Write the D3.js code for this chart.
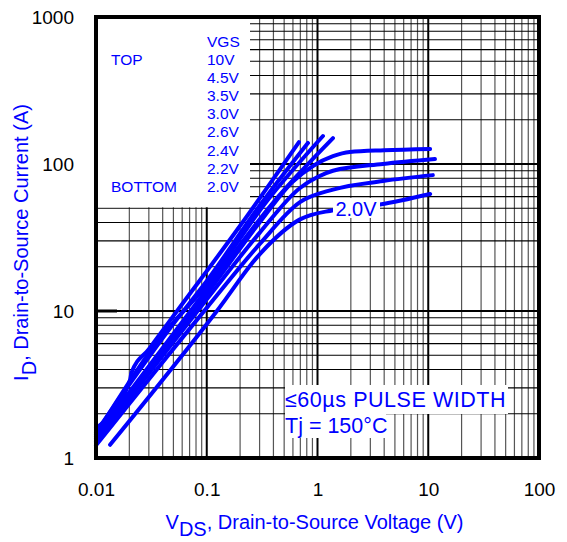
<!DOCTYPE html>
<html>
<head>
<meta charset="utf-8">
<script src="https://cdn.jsdelivr.net/npm/d3@7"></script>
<style>
  body { margin: 0; background: #fff; }
  svg text { font-family: "Liberation Sans", Arial, Helvetica, sans-serif; }
</style>
</head>
<body>
<div id="chart"></div>
<script>
// tick labels
var xTickValues = [0.01, 0.1, 1, 10, 100];
var xTickLabels = ["0.01", "0.1", "1", "10", "100"];
var yTickValues = [1, 10, 100, 1000];
var yTickLabels = ["1", "10", "100", "1000"];

// VGS legend, top to bottom
var vgsLabels = ["10V", "4.5V", "3.5V", "3.0V", "2.6V", "2.4V", "2.2V", "2.0V"];

// curves: [VDS (V), ID (A)]
var curve10V = [[0.01, 1.6], [0.0203, 3.4], [0.0209, 3.8], [0.03, 5.5], [0.055, 10.2], [0.2, 38], [0.68, 141]];
var curve45V = [[0.01, 1.5], [0.05, 8.2], [0.1, 16], [0.3, 52], [0.82, 139]];
var curve35V = [[0.01, 1.45], [0.037, 6.4], [0.1, 15], [0.35, 56], [1.12, 155]];
var curve30V = [[0.01, 1.4], [0.1, 14], [0.4, 55], [1.38, 150]];
var curve26V = [[0.01, 1.35], [0.1, 13], [0.3, 40], [0.6, 76], [0.91, 97], [1.38, 113], [1.96, 120.7], [4, 124], [10.4, 126.5]];
var curve24V = [[0.01, 1.3], [0.1, 12], [0.3, 34], [0.695, 68.7], [1.0, 81.6], [1.38, 90], [3.9, 100], [11.5, 108]];
var curve22V = [[0.01, 1.22], [0.1, 10.5], [0.3, 28.5], [0.695, 55], [1.38, 67], [3.9, 76.6], [11, 84]];
var curve20V = [[0.0134, 1.23], [0.126, 10.2], [0.303, 24.5], [0.695, 42], [1.38, 48.5], [3.67, 53], [10.4, 62.5]];
var curves = [curve10V, curve45V, curve35V, curve30V, curve26V, curve24V, curve22V, curve20V];

var svgWidth = 567;
var svgHeight = 542;
var margin = { top: 17, right: 28, bottom: 84, left: 96 };
var chartWidth = svgWidth - margin.left - margin.right;
var chartHeight = svgHeight - margin.top - margin.bottom;
var blue = "#0000ff";

var svg = d3.select("#chart")
    .append("svg")
    .attr("width", svgWidth)
    .attr("height", svgHeight);

var chartGroup = svg.append("g")
    .attr("transform", `translate(${margin.left}, ${margin.top})`);

var xScale = d3.scaleLog().domain([0.01, 100]).range([0, chartWidth]);
var yScale = d3.scaleLog().domain([1, 1000]).range([chartHeight, 0]);

// grid values: 1..9 in every decade
function decadeSteps(lo, hi) {
    var out = [];
    for (var d = lo; d < hi; d *= 10) {
        for (var k = 1; k < 10; k++) out.push({ v: d * k, major: k === 1 });
    }
    return out.filter(function(g) { return g.v > lo && g.v < hi; });
}

chartGroup.append("g").selectAll("line")
    .data(decadeSteps(0.01, 100))
    .enter()
    .append("line")
    .attr("x1", d => xScale(d.v))
    .attr("x2", d => xScale(d.v))
    .attr("y1", 0)
    .attr("y2", chartHeight)
    .attr("stroke", d => d.major ? "#000" : "#555")
    .attr("stroke-width", d => d.major ? 2 : 1.2);

chartGroup.append("g").selectAll("line")
    .data(decadeSteps(1, 1000))
    .enter()
    .append("line")
    .attr("x1", 0)
    .attr("x2", chartWidth)
    .attr("y1", d => yScale(d.v))
    .attr("y2", d => yScale(d.v))
    .attr("stroke", "#000")
    .attr("stroke-width", d => d.major ? 2 : 1.2);

// inner major ticks on the left side
chartGroup.append("g").selectAll("line")
    .data(yTickValues)
    .enter()
    .append("line")
    .attr("x1", 0)
    .attr("x2", 21)
    .attr("y1", d => yScale(d))
    .attr("y2", d => yScale(d))
    .attr("stroke", "#000")
    .attr("stroke-width", 3);

// white legend area top-left
chartGroup.append("rect")
    .attr("x", 0)
    .attr("y", 0)
    .attr("width", 154)
    .attr("height", yScale(50) - 1)
    .attr("fill", "#fff");

// curves
var line = d3.line()
    .x(d => xScale(d[0]))
    .y(d => yScale(d[1]))
    .curve(d3.curveMonotoneX);

chartGroup.append("g").selectAll("path")
    .data(curves)
    .enter()
    .append("path")
    .attr("d", line)
    .attr("fill", "none")
    .attr("stroke", blue)
    .attr("stroke-width", 4)
    .attr("stroke-linecap", "round")
    .attr("stroke-linejoin", "round");

// plot frame
chartGroup.append("rect")
    .attr("x", 0)
    .attr("y", 0)
    .attr("width", chartWidth)
    .attr("height", chartHeight)
    .attr("fill", "none")
    .attr("stroke", "#000")
    .attr("stroke-width", 4);

// legend texts
var legend = chartGroup.append("g")
    .attr("fill", blue)
    .attr("font-size", "15.5px");

legend.append("text").attr("x", 111).attr("y", 30).text("VGS");
legend.selectAll(".vgs")
    .data(vgsLabels)
    .enter()
    .append("text")
    .attr("class", "vgs")
    .attr("x", 111)
    .attr("y", (d, i) => 47.5 + i * 18.2)
    .text(d => d);
legend.append("text").attr("x", 15).attr("y", 47.5).text("TOP");
legend.append("text").attr("x", 15).attr("y", 47.5 + 7 * 18.2).text("BOTTOM");

// 2.0V curve label
chartGroup.append("rect")
    .attr("x", 237)
    .attr("y", 181)
    .attr("width", 47)
    .attr("height", 20)
    .attr("fill", "#fff");
chartGroup.append("text")
    .attr("x", 260)
    .attr("y", 199)
    .attr("text-anchor", "middle")
    .attr("fill", blue)
    .attr("font-size", "20px")
    .text("2.0V");

// test condition note
chartGroup.append("rect")
    .attr("x", 189).attr("y", 368)
    .attr("width", 223).attr("height", 29)
    .attr("fill", "#fff");
chartGroup.append("rect")
    .attr("x", 189).attr("y", 396)
    .attr("width", 101).attr("height", 25)
    .attr("fill", "#fff");
chartGroup.append("text")
    .attr("x", 189).attr("y", 390)
    .attr("fill", blue)
    .attr("font-size", "21.5px")
    .attr("letter-spacing", "0.55px")
    .text("≤60µs PULSE WIDTH");
chartGroup.append("text")
    .attr("x", 189).attr("y", 416)
    .attr("fill", blue)
    .attr("font-size", "21.5px")
    .text("Tj = 150°C");

// axes (labels only)
var bottomAxis = d3.axisBottom(xScale)
    .tickValues(xTickValues)
    .tickFormat((d, i) => xTickLabels[i])
    .tickSize(0)
    .tickPadding(0);
var leftAxis = d3.axisLeft(yScale)
    .tickValues(yTickValues)
    .tickFormat((d, i) => yTickLabels[i])
    .tickSize(0)
    .tickPadding(0);

var xAxisG = chartGroup.append("g")
    .attr("transform", `translate(0, ${chartHeight})`)
    .call(bottomAxis);
var yAxisG = chartGroup.append("g")
    .call(leftAxis);

[xAxisG, yAxisG].forEach(function(g) {
    g.select(".domain").remove();
    g.selectAll("text")
        .attr("fill", "#000")
        .attr("font-size", "19px")
        .attr("font-family", "Liberation Sans, Arial, sans-serif");
});
xAxisG.selectAll("text").attr("dy", null).attr("y", 38);
yAxisG.selectAll("text").attr("dy", "0.35em").attr("x", -22);

// axis titles
var xTitle = svg.append("text")
    .attr("x", margin.left + chartWidth / 2 - 3)
    .attr("y", 529)
    .attr("text-anchor", "middle")
    .attr("fill", blue)
    .attr("font-size", "20px");
xTitle.append("tspan").text("V");
xTitle.append("tspan").attr("dy", 7).text("DS");
xTitle.append("tspan").attr("dy", -7).text(", Drain-to-Source Voltage (V)");

var yTitle = svg.append("text")
    .attr("transform", `translate(28, ${margin.top + chartHeight / 2 + 5}) rotate(-90)`)
    .attr("text-anchor", "middle")
    .attr("fill", blue)
    .attr("font-size", "20px");
yTitle.append("tspan").text("I");
yTitle.append("tspan").attr("dy", 8).text("D");
yTitle.append("tspan").attr("dy", -8).text(", Drain-to-Source Current (A)");
</script>
</body>
</html>
